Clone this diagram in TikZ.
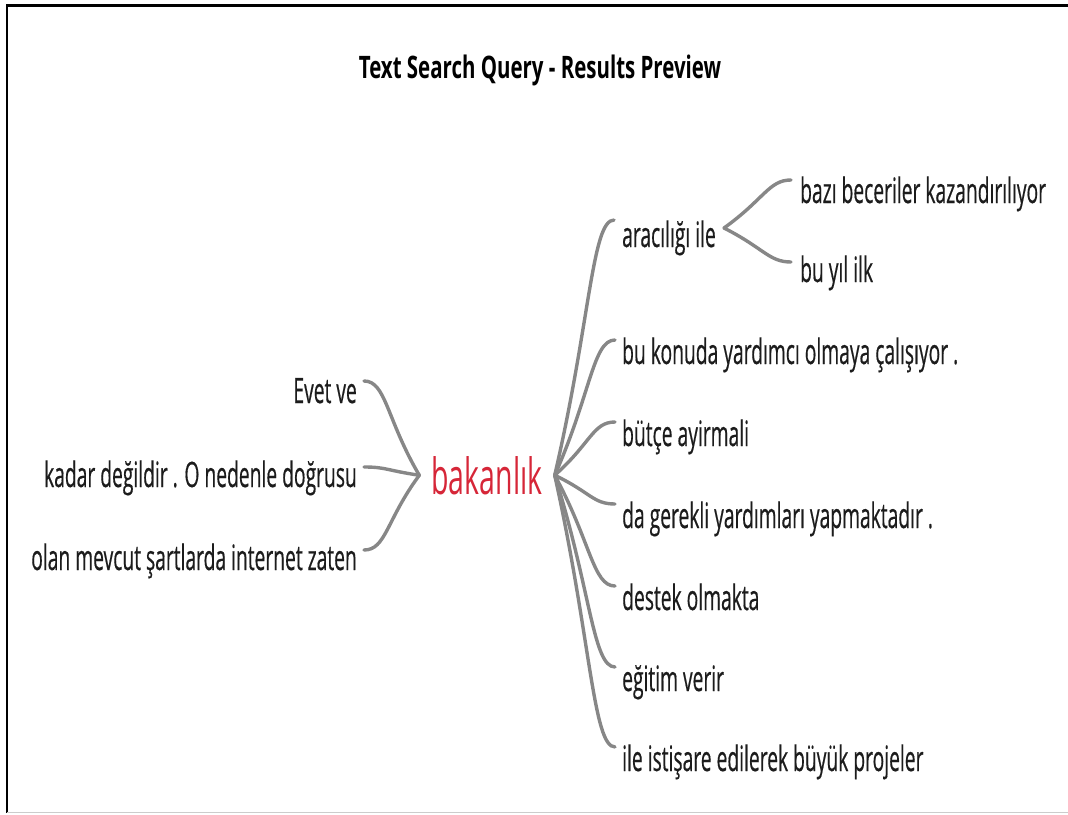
\documentclass[tikz,border=0pt]{standalone}
\usepackage{fontspec}
\setmainfont[FakeStretch=0.55, FakeBold=0.4]{Open Sans}
\newfontfamily\titlefont[FakeStretch=0.66]{Open Sans}
\newfontfamily\rootfont[FakeStretch=0.57]{Open Sans}
\usetikzlibrary{calc}
\definecolor{treegray}{RGB}{135,135,135}
\definecolor{rootred}{RGB}{214,38,56}
\definecolor{leafblack}{RGB}{28,28,28}
\tikzstyle{leaf} = [inner sep=0pt, text=leafblack, font=\fontsize{35}{38}\selectfont]
\tikzstyle{root} = [inner xsep=12pt, inner ysep=0pt, text=rootred, font=\rootfont\fontsize{50}{54}\selectfont]
\tikzstyle{heading} = [inner sep=0pt, text=black, font=\titlefont\bfseries\fontsize{31}{34}\selectfont]
\tikzstyle{branch} = [draw=treegray, line width=3.4pt, line cap=round]
\tikzset{twig/.style={to path={.. controls ($(\tikztostart)!0.6!(\tikztotarget)$) and ($(\tikztotarget)+(#1,0)$) .. (\tikztotarget)}}}

\begin{document}
\begin{tikzpicture}[x=1pt, y=-1pt]
	% frame
	\useasboundingbox (0,0) rectangle (1068,814);
	\draw[line width=3pt] (6,5) -- (1068,5);
	\draw[line width=2pt] (7,4) -- (7,813);
	\draw[black!20, line width=1pt] (7,812.5) -- (1068,812.5);

	% title
	\node (title) [heading, anchor=base] at (540,78) {Text Search Query - Results Preview};

	% root word
	\node (root) [root, anchor=base] at (487,494) {bakanlık};

	% left side
	\node (evet) [leaf, anchor=base east] at (357,403) {Evet ve};
	\node (kadar) [leaf, anchor=base east] at (357,487) {kadar değildir . O nedenle doğrusu};
	\node (olan) [leaf, anchor=base east] at (357,570) {olan mevcut şartlarda internet zaten};

	% right side
	\node (araci) [leaf, anchor=base west] at (622,247) {aracılığı ile};
	\node (konuda) [leaf, anchor=base west] at (622,364) {bu konuda yardımcı olmaya çalışıyor .};
	\node (butce) [leaf, anchor=base west] at (622,446) {bütçe ayirmali};
	\node (gerekli) [leaf, anchor=base west] at (622,528) {da gerekli yardımları yapmaktadır .};
	\node (destek) [leaf, anchor=base west] at (622,610) {destek olmakta};
	\node (egitim) [leaf, anchor=base west] at (622,691) {eğitim verir};
	\node (istisare) [leaf, anchor=base west] at (622,771) {ile istişare edilerek büyük projeler};

	% second level after "aracılığı ile"
	\node (beceri) [leaf, anchor=base west] at (800,203) {bazı beceriler kazandırılıyor};
	\node (buyil) [leaf, anchor=base west] at (800,282) {bu yıl ilk};

	% connector ends
	\coordinate (evet-in) at ([shift={(7,-22)}]evet.base east);
	\coordinate (kadar-in) at ([shift={(7,-20)}]kadar.base east);
	\coordinate (olan-in) at ([shift={(7,-20)}]olan.base east);
	\coordinate (araci-in) at ([shift={(-8,-27)}]araci.base west);
	\coordinate (konuda-in) at ([shift={(-7,-24)}]konuda.base west);
	\coordinate (butce-in) at ([shift={(-7,-24)}]butce.base west);
	\coordinate (gerekli-in) at ([shift={(-7,-24)}]gerekli.base west);
	\coordinate (destek-in) at ([shift={(-7,-24)}]destek.base west);
	\coordinate (egitim-in) at ([shift={(-7,-24)}]egitim.base west);
	\coordinate (istisare-in) at ([shift={(-7,-24)}]istisare.base west);
	\coordinate (araci-out) at ([shift={(8,-19)}]araci.base east);
	\coordinate (beceri-in) at ([shift={(-9,-23)}]beceri.base west);
	\coordinate (buyil-in) at ([shift={(-9,-20)}]buyil.base west);

	% connectors
	\draw[branch] (root.west) to[twig=22] (evet-in);
	\draw[branch] (root.west) to[twig=22] (kadar-in);
	\draw[branch] (root.west) to[twig=22] (olan-in);
	\draw[branch] (root.east) to[twig=-22] (araci-in);
	\draw[branch] (root.east) to[twig=-22] (konuda-in);
	\draw[branch] (root.east) to[twig=-22] (butce-in);
	\draw[branch] (root.east) to[twig=-22] (gerekli-in);
	\draw[branch] (root.east) to[twig=-22] (destek-in);
	\draw[branch] (root.east) to[twig=-22] (egitim-in);
	\draw[branch] (root.east) to[twig=-22] (istisare-in);
	\draw[branch] (araci-out) to[twig=-22] (beceri-in);
	\draw[branch] (araci-out) to[twig=-22] (buyil-in);
\end{tikzpicture}
\end{document}
